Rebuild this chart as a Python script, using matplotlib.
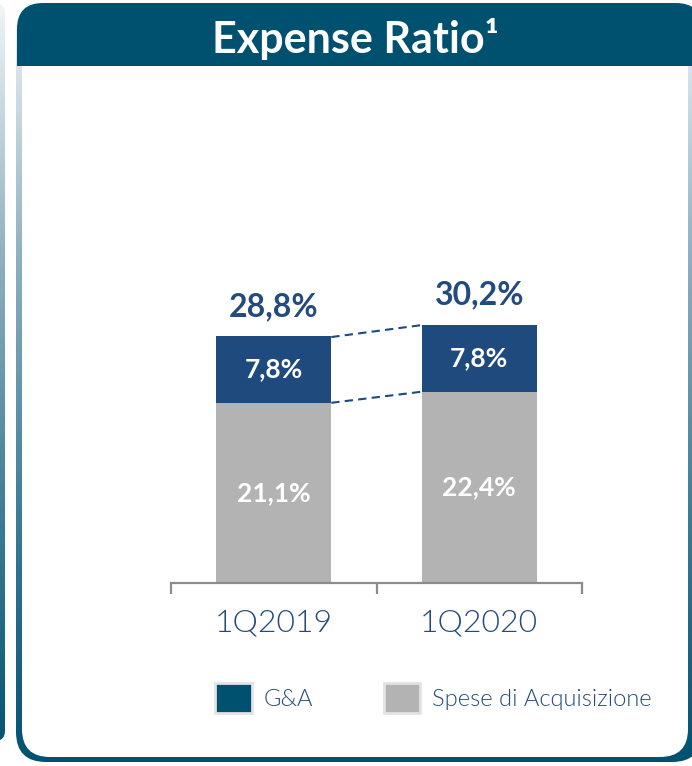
import numpy as np
import matplotlib
matplotlib.use("Agg")
import matplotlib.pyplot as plt
from matplotlib.patches import FancyBboxPatch, Rectangle, Patch
from matplotlib.colors import LinearSegmentedColormap

# -----------------------------
# Data
# -----------------------------
periods = ["1Q2019", "1Q2020"]
acquisizione = [21.1, 22.4]
ga = [7.8, 7.8]
totals = [28.8, 30.2]

acq_labels = ["21,1%", "22,4%"]
ga_labels = ["7,8%", "7,8%"]
total_labels = ["28,8%", "30,2%"]
legend_labels = ["G&A", "Spese di Acquisizione"]

# -----------------------------
# Style
# -----------------------------
NAVY = "#1f4a7d"
TEAL = "#005070"
GREY = "#b2b3b2"
TEXT = "#234b7d"

plt.rcParams["font.family"] = ["Lato", "DejaVu Sans"]

W, H = 692, 766
fig = plt.figure(figsize=(W / 100, H / 100), dpi=100)

# background / card decoration in pixel coords
bg = fig.add_axes([0, 0, 1, 1])
bg.set_xlim(0, W)
bg.set_ylim(H, 0)
bg.axis("off")

cmap = LinearSegmentedColormap.from_list("edge", ["#f2f6f8", "#8fb0c0", "#3f7d97", TEAL])
grad = np.linspace(0, 1, 256).reshape(-1, 1)

# card border with gradient
outer = FancyBboxPatch((16, 3), 692 - 16 + 10, 762 - 3, boxstyle="round,pad=0,rounding_size=30",
                       transform=bg.transData, facecolor="none", edgecolor="none")
bg.add_patch(outer)
im = bg.imshow(grad, extent=[0, W, H, 0], cmap=cmap, aspect="auto", zorder=1)
im.set_clip_path(outer)

# strip of the previous panel on the left
left = FancyBboxPatch((-40, 3), 45, 738, boxstyle="round,pad=0,rounding_size=10",
                      transform=bg.transData, facecolor="none", edgecolor="none")
bg.add_patch(left)
im2 = bg.imshow(grad, extent=[0, W, H, 0], cmap=cmap, aspect="auto", zorder=1)
im2.set_clip_path(left)

inner = FancyBboxPatch((22, 40), 688 - 22, 757 - 40, boxstyle="round,pad=0,rounding_size=28",
                       facecolor="white", edgecolor="none", zorder=2)
bg.add_patch(inner)

header = FancyBboxPatch((17, 3), 692 - 17 + 10, 100, boxstyle="round,pad=0,rounding_size=26",
                        facecolor=TEAL, edgecolor="none", zorder=3)
bg.add_patch(header)
header.set_clip_path(Rectangle((0, 0), W, 66, transform=bg.transData))

bg.text(355, 39, "Expense Ratio¹", ha="center", va="center", color="white",
        fontsize=31, fontweight="bold", zorder=4)
bg.set_xlim(0, W)
bg.set_ylim(H, 0)

# -----------------------------
# Chart
# -----------------------------
ax = fig.add_axes([171 / W, (H - 583) / H, 411 / W, 341.6 / H])
ax.patch.set_visible(False)
x = np.arange(len(periods))
bw = 0.56

ax.bar(x, acquisizione, width=bw, color=GREY, zorder=2)
ax.bar(x, ga, bottom=acquisizione, width=bw, color=NAVY, zorder=2)

# dashed connectors
ax.plot([x[0] + bw / 2, x[1] - bw / 2], totals, color=NAVY, lw=1.5, ls="--", dashes=(4, 2.5))
ax.plot([x[0] + bw / 2, x[1] - bw / 2], acquisizione, color=NAVY, lw=1.5, ls="--", dashes=(4, 2.5))

for i in range(len(periods)):
    ax.text(x[i], acquisizione[i] / 2, acq_labels[i], ha="center", va="center",
            color="white", fontsize=19, fontweight="bold")
    ax.text(x[i], acquisizione[i] + ga[i] / 2, ga_labels[i], ha="center", va="center",
            color="white", fontsize=19, fontweight="bold")
    ax.annotate(total_labels[i], (x[i], totals[i]), xytext=(0, 22), textcoords="offset points",
                ha="center", va="center", color=TEXT, fontsize=23, fontweight="bold")

ax.set_xlim(-0.5, 1.5)
ax.set_ylim(0, 40)
for s in ["top", "left", "right"]:
    ax.spines[s].set_visible(False)
ax.spines["bottom"].set_color("#8c8c8c")
ax.spines["bottom"].set_linewidth(1.6)
ax.set_yticks([])
ax.set_xticks(x)
ax.set_xticklabels(periods, fontsize=23, color=TEXT, fontweight=300)
ax.tick_params(axis="x", which="major", length=0, pad=18)
ax.set_xticks([-0.5, 0.5, 1.5], minor=True)
ax.tick_params(axis="x", which="minor", length=8, width=1.6, color="#8c8c8c")

# -----------------------------
# Legend
# -----------------------------
handles = [Patch(facecolor=TEAL, edgecolor="#e3e3e3", lw=2),
           Patch(facecolor=GREY, edgecolor="#e3e3e3", lw=2)]
leg = fig.legend(handles, legend_labels, loc="upper left", bbox_to_anchor=(215 / W, (H - 683) / H),
                 ncol=2, frameon=False, fontsize=17, handlelength=1.55, handleheight=1.55,
                 handletextpad=0.5, columnspacing=3.0, borderpad=0, borderaxespad=0)
for t in leg.get_texts():
    t.set_color(TEXT)
    t.set_fontweight(300)

fig.savefig("out.png", dpi=100)
